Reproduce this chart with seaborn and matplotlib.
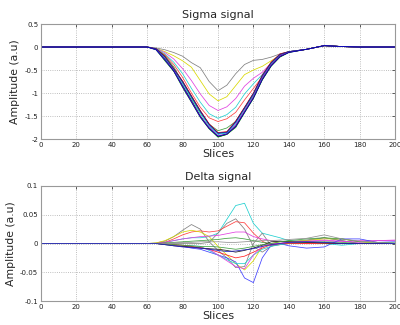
import numpy as np
import pandas as pd
import matplotlib
matplotlib.use("Agg")
import matplotlib.pyplot as plt
import seaborn as sns

sns.set_style("white")
plt.rcParams['font.family'] = ['DejaVu Sans']

slices = [0, 20, 40, 60, 65, 70, 75, 80, 85, 90, 95, 100, 105, 110, 115, 120, 125, 130, 135, 140, 150, 160, 170, 180, 190, 200]

# Sigma signal series
sigma_gray = [0, 0, 0, 0, -0.02, -0.06, -0.12, -0.2, -0.34, -0.45, -0.75, -0.95, -0.83, -0.58, -0.38, -0.29, -0.27, -0.22, -0.15, -0.1, -0.05, 0.03, 0.01, 0, 0, 0]
sigma_yellow = [0, 0, 0, 0, -0.03, -0.1, -0.19, -0.3, -0.44, -0.73, -1.02, -1.17, -1.08, -0.84, -0.6, -0.5, -0.42, -0.3, -0.18, -0.11, -0.05, 0.03, 0.01, 0, 0, 0]
sigma_magenta = [0, 0, 0, 0, -0.03, -0.12, -0.26, -0.47, -0.73, -1.02, -1.27, -1.38, -1.3, -1.12, -0.85, -0.68, -0.55, -0.35, -0.2, -0.11, -0.05, 0.03, 0.01, 0, 0, 0]
sigma_cyan = [0, 0, 0, 0, -0.03, -0.15, -0.33, -0.58, -0.9, -1.2, -1.45, -1.55, -1.47, -1.31, -1.02, -0.8, -0.6, -0.38, -0.2, -0.11, -0.05, 0.03, 0.01, 0, 0, 0]
sigma_red = [0, 0, 0, 0, -0.04, -0.17, -0.38, -0.66, -1.0, -1.31, -1.54, -1.62, -1.56, -1.42, -1.15, -0.9, -0.65, -0.4, -0.21, -0.11, -0.05, 0.03, 0.01, 0, 0, 0]
sigma_green = [0, 0, 0, 0, -0.04, -0.19, -0.43, -0.77, -1.1, -1.42, -1.68, -1.82, -1.76, -1.62, -1.32, -1.05, -0.7, -0.4, -0.2, -0.11, -0.05, 0.03, 0.01, 0, 0, 0]
sigma_deep1 = [0, 0, 0, 0, -0.04, -0.22, -0.48, -0.76, -1.08, -1.4, -1.69, -1.88, -1.86, -1.64, -1.33, -1.02, -0.64, -0.35, -0.17, -0.1, -0.05, 0.03, 0.01, 0, 0, 0]
sigma_deep2 = [0, 0, 0, 0, -0.05, -0.26, -0.52, -0.84, -1.16, -1.5, -1.76, -1.95, -1.9, -1.72, -1.41, -1.1, -0.7, -0.4, -0.2, -0.11, -0.05, 0.03, 0.01, 0, 0, 0]
sigma_deep3 = [0, 0, 0, 0, -0.04, -0.2, -0.47, -0.74, -1.06, -1.38, -1.67, -1.86, -1.84, -1.61, -1.31, -1.0, -0.61, -0.33, -0.15, -0.1, -0.05, 0.03, 0.01, 0, 0, 0]
sigma_deep4 = [0, 0, 0, 0, -0.06, -0.3, -0.53, -0.88, -1.2, -1.53, -1.78, -1.96, -1.9, -1.75, -1.43, -1.12, -0.72, -0.42, -0.22, -0.12, -0.05, 0.03, 0.01, 0, 0, 0]
sigma_deep5 = [0, 0, 0, 0, -0.05, -0.24, -0.5, -0.8, -1.12, -1.45, -1.72, -1.9, -1.87, -1.67, -1.36, -1.05, -0.66, -0.37, -0.18, -0.1, -0.05, 0.03, 0.01, 0, 0, 0]
sigma_deep6 = [0, 0, 0, 0, -0.05, -0.27, -0.51, -0.85, -1.18, -1.51, -1.75, -1.93, -1.89, -1.7, -1.39, -1.08, -0.68, -0.39, -0.19, -0.11, -0.05, 0.03, 0.01, 0, 0, 0]
sigma_deep7 = [0, 0, 0, 0, -0.04, -0.21, -0.47, -0.75, -1.07, -1.39, -1.68, -1.87, -1.85, -1.62, -1.32, -1.01, -0.62, -0.34, -0.16, -0.1, -0.05, 0.03, 0.01, 0, 0, 0]
sigma_deep8 = [0, 0, 0, 0, -0.06, -0.28, -0.52, -0.86, -1.19, -1.52, -1.77, -1.94, -1.89, -1.73, -1.42, -1.11, -0.71, -0.41, -0.21, -0.12, -0.05, 0.03, 0.01, 0, 0, 0]

sigma_series = [sigma_gray, sigma_yellow, sigma_magenta, sigma_cyan, sigma_red, sigma_green,
                sigma_deep1, sigma_deep2, sigma_deep3, sigma_deep4, sigma_deep5, sigma_deep6, sigma_deep7, sigma_deep8]
sigma_colors = ['#808080', '#d8d800', '#e040e0', '#20d0d0', '#ff4040', '#40a040',
                '#0000ff', '#000000', '#ff0000', '#008000', '#00bfbf', '#bf00bf', '#202080', '#0000c0']

# Delta signal series
delta_cyan = [0, 0, 0, 0, 0, 0.002, 0.005, 0.008, 0.01, 0.01, 0.012, 0.018, 0.042, 0.066, 0.07, 0.035, 0.018, 0.014, 0.01, 0.005, 0.003, 0.002, 0, 0, 0, 0]
delta_gray_a = [0, 0, 0, 0, 0.001, 0.004, 0.012, 0.023, 0.033, 0.025, 0.003, -0.012, -0.025, -0.042, -0.04, 0.0, 0.018, -0.004, -0.002, 0, 0.005, 0.01, 0.005, 0, 0, 0]
delta_gray_b = [0, 0, 0, 0, 0, 0, 0, 0, 0, 0, 0.002, 0.018, 0.035, 0.043, 0.025, -0.005, -0.015, -0.005, 0, 0.003, 0.006, 0.01, 0.005, 0, 0, 0]
delta_red = [0, 0, 0, 0, 0, 0.002, 0.008, 0.015, 0.02, 0.022, 0.02, 0.022, 0.03, 0.038, 0.036, 0.018, 0.004, -0.003, -0.002, 0, 0, 0, 0, 0, 0, 0]
delta_yellow = [0, 0, 0, 0, 0.001, 0.005, 0.012, 0.02, 0.023, 0.02, 0.012, -0.005, -0.02, -0.035, -0.046, -0.03, -0.005, 0.0, 0.003, 0.003, 0.005, 0.008, 0.008, 0.003, 0, 0]
delta_magenta = [0, 0, 0, 0, 0, 0.002, 0.005, 0.008, 0.01, 0.012, 0.013, 0.014, 0.017, 0.02, 0.02, 0.012, 0.008, 0.005, 0.003, 0.002, 0.003, 0.005, 0.003, 0.005, 0.005, 0.005]
delta_green = [0, 0, 0, 0, 0, 0.001, 0.002, 0.003, 0.004, 0.005, 0.006, 0.007, 0.009, 0.01, 0.008, 0.005, 0.002, 0, 0, 0, 0.002, 0.003, 0.002, 0, 0, 0]
delta_blue = [0, 0, 0, 0, 0, -0.001, -0.003, -0.005, -0.008, -0.01, -0.015, -0.02, -0.025, -0.032, -0.06, -0.068, -0.025, -0.003, 0, -0.004, -0.008, -0.006, 0.008, 0.008, 0.002, 0.003]
delta_cyan_b = [0, 0, 0, 0, 0, -0.001, -0.002, -0.003, -0.004, -0.005, -0.012, -0.02, -0.028, -0.035, -0.035, -0.02, -0.01, -0.005, -0.002, 0, 0.002, 0, -0.003, 0, 0, 0]
delta_red_b = [0, 0, 0, 0, 0, -0.001, -0.002, -0.003, -0.005, -0.007, -0.01, -0.015, -0.02, -0.025, -0.022, -0.015, -0.008, -0.002, 0, 0, 0, 0, 0, 0, 0, 0]
delta_magenta_b = [0, 0, 0, 0, 0, -0.001, -0.003, -0.005, -0.007, -0.008, -0.01, -0.02, -0.03, -0.04, -0.044, -0.02, -0.005, 0, 0, 0.002, 0.004, 0.006, 0.004, 0.002, 0.005, 0.006]
delta_black = [0, 0, 0, 0, 0, -0.002, -0.004, -0.005, -0.006, -0.008, -0.009, -0.01, -0.012, -0.015, -0.012, -0.008, -0.003, 0.003, 0.004, 0.003, 0.002, 0.001, 0, 0, 0, 0]
delta_green_b = [0, 0, 0, 0, 0, -0.001, -0.002, -0.003, -0.004, -0.005, -0.005, -0.006, -0.008, -0.01, -0.008, -0.005, -0.002, 0, 0.003, 0.005, 0.008, 0.01, 0.008, 0.003, 0.002, 0.001]
delta_gray_c = [0, 0, 0, 0, 0, 0, 0.001, 0.002, 0.002, 0.003, 0.003, 0.003, 0.002, 0.002, 0.003, 0.004, 0.005, 0.005, 0.006, 0.007, 0.009, 0.015, 0.008, 0.004, 0.002, 0]
delta_blue_b = [0, 0, 0, 0, 0, -0.002, -0.004, -0.006, -0.007, -0.008, -0.01, -0.012, -0.014, -0.013, -0.011, -0.009, -0.005, -0.002, 0, 0.002, 0.003, 0.002, 0, 0, 0, 0]

delta_series = [delta_cyan, delta_gray_a, delta_gray_b, delta_red, delta_yellow, delta_magenta, delta_green,
                delta_blue, delta_cyan_b, delta_red_b, delta_magenta_b, delta_black, delta_green_b, delta_gray_c, delta_blue_b]
delta_colors = ['#20d0d0', '#808080', '#808080', '#ff4040', '#d8d800', '#e040e0', '#40a040',
                '#4040ff', '#20d0d0', '#ff2020', '#e040e0', '#202020', '#40a040', '#909090', '#2020c0']

xticks = [0, 20, 40, 60, 80, 100, 120, 140, 160, 180, 200]
sigma_yticks = [0.5, 0, -0.5, -1, -1.5, -2]
sigma_yticklabels = ['0.5', '0', '-0.5', '-1', '-1.5', '-2']
delta_yticks = [0.1, 0.05, 0, -0.05, -0.1]
delta_yticklabels = ['0.1', '0.05', '0', '-0.05', '-0.1']


def long_df(series):
    rows = []
    for i, s in enumerate(series):
        for x, y in zip(slices, s):
            rows.append((i, x, y))
    return pd.DataFrame(rows, columns=['series', 'slice', 'amp'])


fig = plt.figure(figsize=(4.0, 3.25), dpi=100)
ax1 = fig.add_axes([0.1025, 0.5723, 0.885, 0.3538])
ax2 = fig.add_axes([0.1025, 0.0738, 0.885, 0.3539])


def style(ax, yticks, ylabels, ylim, title):
    ax.set_xlim(0, 200)
    ax.set_ylim(*ylim)
    ax.set_xticks(xticks)
    ax.set_xticklabels([str(t) for t in xticks])
    ax.set_yticks(yticks)
    ax.set_yticklabels(ylabels)
    ax.tick_params(axis='both', labelsize=5, direction='in', length=2, width=0.5,
                   top=True, right=True, pad=2, colors='#222222')
    ax.grid(True, linestyle=':', color='#aaaaaa', linewidth=0.6)
    for sp in ax.spines.values():
        sp.set_visible(True)
        sp.set_color('#999999')
        sp.set_linewidth(0.8)
    ax.set_title(title, fontsize=8, pad=4)
    ax.set_xlabel('Slices', fontsize=8, labelpad=1)
    ax.set_ylabel('Amplitude (a.u)', fontsize=7.8, labelpad=3)


df1 = long_df(sigma_series)
sns.lineplot(data=df1, x='slice', y='amp', hue='series', palette=sigma_colors,
             estimator=None, legend=False, linewidth=0.55, ax=ax1)
style(ax1, sigma_yticks, sigma_yticklabels, (-2, 0.5), 'Sigma signal')

df2 = long_df(delta_series)
sns.lineplot(data=df2, x='slice', y='amp', hue='series', palette=delta_colors,
             estimator=None, legend=False, linewidth=0.55, ax=ax2)
style(ax2, delta_yticks, delta_yticklabels, (-0.1, 0.1), 'Delta signal')

fig.savefig('out.png', dpi=100)
